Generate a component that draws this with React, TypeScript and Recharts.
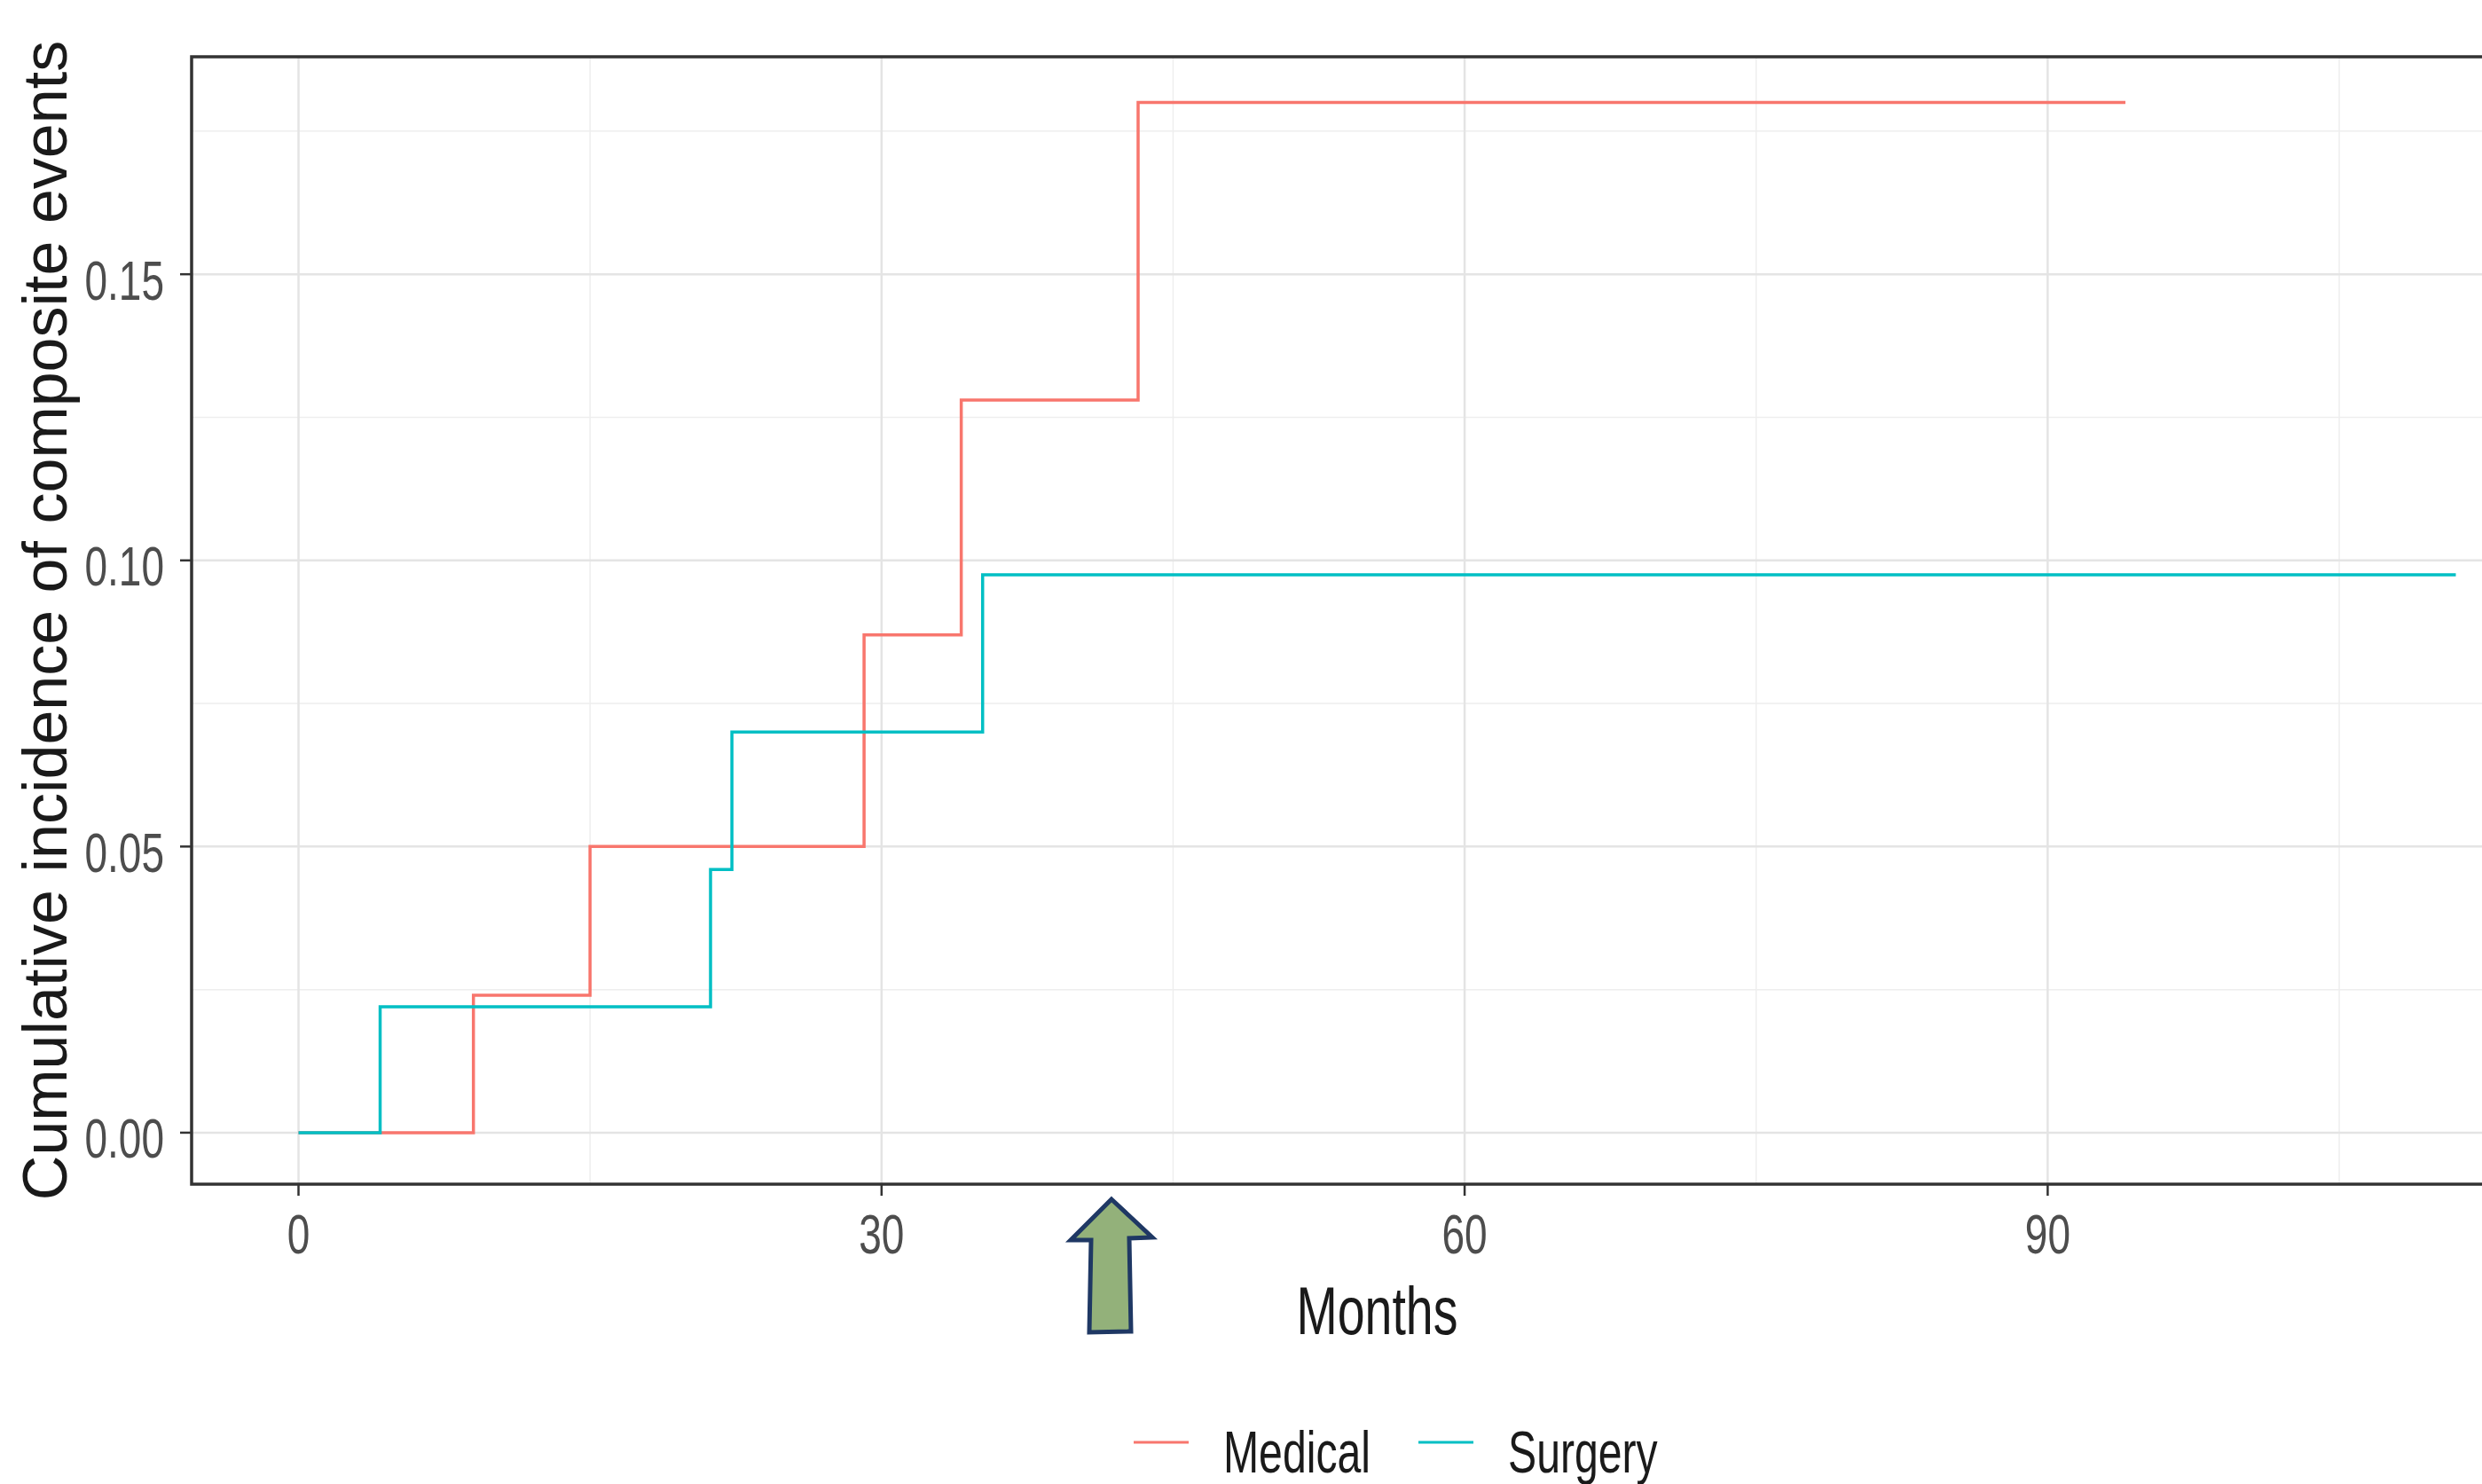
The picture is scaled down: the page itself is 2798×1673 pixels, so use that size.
import React from 'react';
import { LineChart, Line, XAxis, YAxis, CartesianGrid, Legend, ReferenceArea, Customized } from 'recharts';

const medicalMonths = [0, 9, 15, 29.1, 34.1, 43.2, 94];
const medicalIncidence = [0, 0.024, 0.05, 0.087, 0.128, 0.18, 0.18];
const surgeryMonths = [0, 4.2, 21.2, 22.3, 35.2, 111];
const surgeryIncidence = [0, 0.022, 0.046, 0.07, 0.0975, 0.0975];

const xTicks = [0, 30, 60, 90];
const yTicks = [0, 0.05, 0.1, 0.15];
const xMinorTicks = [15, 45, 75, 105];
const yMinorTicks = [0.025, 0.075, 0.125, 0.175];

const X_DOMAIN = [-5.5, 116.5];
const Y_DOMAIN = [-0.009, 0.188];

const CHART_W = 2900;
const CHART_H = 1673;
const FONT = '"Liberation Sans", Arial, sans-serif';
const SQUEEZE = 0.73; // text in the original is horizontally condensed

const medicalData = medicalMonths.map((month, i) => ({ month, value: medicalIncidence[i] }));
const surgeryData = surgeryMonths.map((month, i) => ({ month, value: surgeryIncidence[i] }));

const XTick = (props: any) => {
  const { x, y, payload } = props;
  return (
    <text
      transform={`translate(${x},${y}) scale(${SQUEEZE},1)`}
      textAnchor="middle"
      dy="0.71em"
      fontSize={63}
      fontFamily={FONT}
      fill="#4d4d4d"
    >
      {payload.value}
    </text>
  );
};

const YTick = (props: any) => {
  const { x, y, payload } = props;
  return (
    <text
      transform={`translate(${x},${y}) scale(${SQUEEZE},1)`}
      textAnchor="end"
      dy="0.45em"
      fontSize={63}
      fontFamily={FONT}
      fill="#4d4d4d"
    >
      {Number(payload.value).toFixed(2)}
    </text>
  );
};

const renderLegend = (props: any) => {
  const { payload } = props;
  return (
    <svg width={CHART_W} height={86} style={{ display: 'block' }}>
      {payload.map((entry: any, i: number) => {
        const x0 = 1278 + i * 321;
        return (
          <g key={entry.value}>
            <line x1={x0} y1={39} x2={x0 + 62} y2={39} stroke={entry.color} strokeWidth={3} />
            <text
              transform={`translate(${x0 + 101},73) scale(${SQUEEZE},1)`}
              fontSize={66}
              fontFamily={FONT}
              fill="#1a1a1a"
            >
              {entry.value}
            </text>
          </g>
        );
      })}
    </svg>
  );
};

// green block arrow drawn under the x axis
const UpArrow = () => (
  <path
    d="M1253,1352 L1299,1395 L1273,1396 L1275,1501 L1228,1502 L1230,1398 L1207,1398 Z"
    fill="#93b17a"
    stroke="#1f3864"
    strokeWidth={5}
    strokeLinejoin="miter"
  />
);

export default function App() {
  return (
    <div style={{ position: 'fixed', left: 0, top: 0, width: 2798, height: 1673, overflow: 'hidden', background: '#fff' }}>
      <LineChart width={CHART_W} height={CHART_H} margin={{ top: 64, right: 11, bottom: 0, left: 0 }}>
        <CartesianGrid
          stroke="#eeeeee"
          strokeWidth={1.5}
          horizontalValues={yMinorTicks}
          verticalValues={xMinorTicks}
        />
        <CartesianGrid stroke="#e4e4e4" strokeWidth={2.5} horizontalValues={yTicks} verticalValues={xTicks} />
        <XAxis
          type="number"
          dataKey="month"
          domain={X_DOMAIN}
          ticks={xTicks}
          allowDataOverflow
          height={252}
          tickSize={13}
          tickMargin={20}
          axisLine={false}
          tickLine={{ stroke: '#333333', strokeWidth: 2.5 }}
          tick={<XTick />}
          label={(p: any) => (
            <text
              transform={`translate(${p.viewBox.x + p.viewBox.width / 2},1504) scale(${SQUEEZE},1)`}
              textAnchor="middle"
              fontSize={76}
              fontFamily={FONT}
              fill="#1a1a1a"
            >
              Months
            </text>
          )}
        />
        <YAxis
          type="number"
          dataKey="value"
          domain={Y_DOMAIN}
          ticks={yTicks}
          allowDataOverflow
          width={216}
          tickSize={13}
          tickMargin={18}
          axisLine={false}
          tickLine={{ stroke: '#333333', strokeWidth: 2.5 }}
          tick={<YTick />}
          label={(p: any) => (
            <text
              x={75}
              y={p.viewBox.y + p.viewBox.height / 2}
              transform={`rotate(-90, 75, ${p.viewBox.y + p.viewBox.height / 2})`}
              textAnchor="middle"
              fontSize={70}
              fontFamily={FONT}
              fill="#1a1a1a"
            >
              Cumulative incidence of composite events
            </text>
          )}
        />
        <Line
          data={medicalData}
          dataKey="value"
          name="Medical"
          type="stepAfter"
          stroke="#F8766D"
          strokeWidth={3.5}
          dot={false}
          isAnimationActive={false}
        />
        <Line
          data={surgeryData}
          dataKey="value"
          name="Surgery"
          type="stepAfter"
          stroke="#00BFC4"
          strokeWidth={3.5}
          dot={false}
          isAnimationActive={false}
        />
        <ReferenceArea
          x1={X_DOMAIN[0]}
          x2={X_DOMAIN[1]}
          y1={Y_DOMAIN[0]}
          y2={Y_DOMAIN[1]}
          fill="none"
          stroke="#333333"
          strokeWidth={3.5}
          ifOverflow="visible"
        />
        <Legend
          verticalAlign="bottom"
          content={renderLegend}
          wrapperStyle={{ left: 0, width: CHART_W, height: 86 }}
        />
        <Customized component={<UpArrow />} />
      </LineChart>
    </div>
  );
}
